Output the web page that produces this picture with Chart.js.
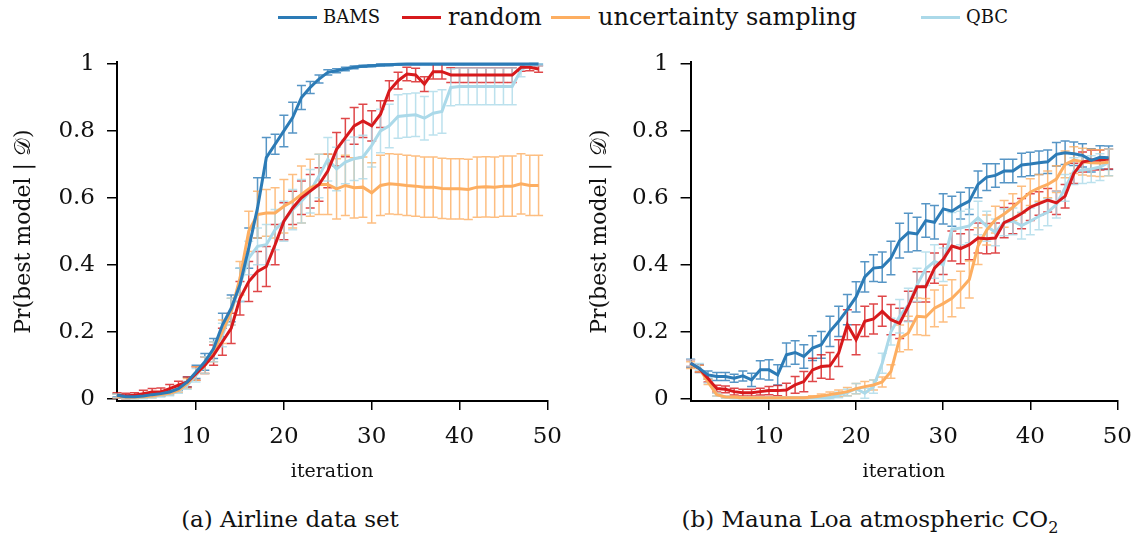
<!DOCTYPE html>
<html>
<head>
<meta charset="utf-8">
<script src="https://cdn.jsdelivr.net/npm/chart.js@4/dist/chart.umd.min.js"></script>
<style>
  body { margin: 0; background: #fff; width: 1145px; height: 533px; overflow: hidden; position: relative; font-family: "DejaVu Serif", serif; color: #111; }
  canvas { position: absolute; top: 0; }
  .swatch { position: absolute; top: 16px; width: 39px; height: 3px; }
  .ltext { position: absolute; top: 0; height: 34px; line-height: 34px; font-size: 24px; white-space: nowrap; }
  .sc { font-size: 18px; }
  .caption { position: absolute; top: 505px; font-size: 23px; line-height: 28px; text-align: center; white-space: nowrap; }
</style>
</head>
<body>
<div id="legend"></div>
<canvas id="chartA" width="575" height="490" style="left:0"></canvas>
<canvas id="chartB" width="567" height="490" style="left:578px"></canvas>
<div class="caption" style="left:140px; width:300px;">(a) Airline data set</div>
<div class="caption" style="left:670px; width:400px;">(b) Mauna Loa atmospheric CO<sub style="font-size:16px">2</sub></div>
<script>
const iterations = [1,2,3,4,5,6,7,8,9,10,11,12,13,14,15,16,17,18,19,20,21,22,23,24,25,
  26,27,28,29,30,31,32,33,34,35,36,37,38,39,40,41,42,43,44,45,46,47,48,49];
const xTicks = [10, 20, 30, 40, 50];
const yTicks = [0, 0.2, 0.4, 0.6, 0.8, 1];
const seriesNames = ["BAMS", "random", "uncertainty sampling", "QBC"];
const seriesColors = ["#2c7bb6", "#d7191c", "#fdae61", "#abd9e9"];

// (a) airline
const bamsA = [0.01,0.006,0.006,0.008,0.012,0.015,0.02,0.03,0.05,0.08,0.11,0.15,0.22,0.27,0.34,0.45,0.57,0.72,0.76,0.8,
  0.84,0.9,0.93,0.955,0.975,0.98,0.985,0.99,0.993,0.995,0.997,0.998,0.999,1,1,1,1,1,1,1,1,1,1,1,1,1,1,1,1];
const randomA = [0.01,0.008,0.01,0.015,0.02,0.02,0.03,0.04,0.05,0.075,0.1,0.13,0.17,0.21,0.3,0.35,0.38,0.395,0.46,0.53,
  0.57,0.6,0.62,0.64,0.68,0.745,0.78,0.815,0.83,0.815,0.85,0.92,0.95,0.97,0.967,0.94,0.977,0.977,0.967,0.967,
  0.967,0.967,0.967,0.967,0.967,0.967,0.99,0.99,0.985];
const uncertA = [0.008,0.004,0.004,0.006,0.008,0.012,0.016,0.025,0.045,0.075,0.1,0.14,0.2,0.26,0.36,0.5,0.55,0.555,0.555,0.575,
  0.59,0.61,0.63,0.64,0.64,0.627,0.637,0.63,0.632,0.615,0.637,0.642,0.64,0.637,0.635,0.632,0.632,0.628,0.627,0.627,
  0.625,0.632,0.633,0.632,0.635,0.635,0.642,0.637,0.637];
const qbcA = [0.008,0.003,0.003,0.005,0.007,0.01,0.014,0.022,0.04,0.07,0.1,0.14,0.19,0.26,0.34,0.42,0.455,0.46,0.505,0.53,
  0.565,0.59,0.62,0.665,0.715,0.686,0.707,0.717,0.722,0.757,0.8,0.815,0.843,0.846,0.848,0.838,0.853,0.858,0.93,0.933,
  0.933,0.933,0.933,0.933,0.933,0.933,0.982,1,1];
const bamsAErr = [0.005,0.005,0.005,0.005,0.005,0.005,0.005,0.006,0.015,0.02,0.025,0.03,0.035,0.04,0.05,0.06,0.09,0.06,0.03,0.047,
  0.046,0.036,0.018,0.012,0.008,0.006,0.005,0.004,0.003,0.003,0.003,0.003,0.003,0.003,0.003,0.003,0.003,0.003,0.003,0.003,
  0.003,0.003,0.003,0.003,0.003,0.003,0.003,0.003,0.003];
const randomAErr = [0.008,0.008,0.008,0.01,0.01,0.012,0.012,0.012,0.015,0.02,0.025,0.03,0.04,0.045,0.05,0.06,0.06,0.06,0.06,0.055,
  0.05,0.05,0.05,0.05,0.05,0.05,0.057,0.055,0.05,0.045,0.04,0.03,0.025,0.02,0.02,0.022,0.022,0.022,0.022,0.022,
  0.022,0.022,0.022,0.022,0.022,0.022,0.012,0.01,0.01];
const uncertAErr = [0.005,0.005,0.005,0.005,0.005,0.005,0.005,0.006,0.015,0.02,0.025,0.03,0.035,0.04,0.05,0.06,0.07,0.07,0.075,0.08,
  0.08,0.085,0.085,0.09,0.09,0.09,0.09,0.09,0.09,0.09,0.09,0.09,0.09,0.09,0.09,0.09,0.09,0.09,0.09,0.09,
  0.09,0.09,0.09,0.09,0.09,0.09,0.09,0.09,0.09];
const qbcAErr = [0.005,0.005,0.005,0.005,0.005,0.005,0.005,0.006,0.012,0.02,0.025,0.03,0.035,0.04,0.05,0.05,0.055,0.06,0.06,0.06,
  0.06,0.065,0.065,0.065,0.065,0.065,0.065,0.065,0.065,0.065,0.065,0.065,0.065,0.065,0.065,0.065,0.065,0.065,0.055,0.055,
  0.055,0.055,0.055,0.055,0.055,0.055,0.02,0.005,0.005];

// (b) mauna loa
const bamsB = [0.106,0.09,0.071,0.066,0.066,0.061,0.068,0.056,0.086,0.086,0.071,0.131,0.138,0.126,0.151,0.161,0.201,0.231,0.266,0.304,
  0.364,0.39,0.393,0.42,0.472,0.496,0.492,0.532,0.527,0.567,0.56,0.577,0.59,0.64,0.662,0.667,0.68,0.68,0.698,0.701,
  0.705,0.708,0.73,0.735,0.732,0.727,0.712,0.721,0.72];
const randomB = [0.106,0.09,0.06,0.03,0.028,0.021,0.018,0.018,0.021,0.024,0.024,0.026,0.041,0.051,0.086,0.096,0.098,0.136,0.221,0.176,
  0.231,0.238,0.261,0.236,0.225,0.276,0.334,0.334,0.39,0.416,0.456,0.448,0.46,0.48,0.478,0.48,0.526,0.538,0.553,0.572,
  0.583,0.593,0.585,0.605,0.673,0.707,0.713,0.713,0.716];
const uncertB = [0.1,0.09,0.05,0.012,0.005,0.004,0.003,0.003,0.003,0.003,0.003,0.003,0.003,0.003,0.005,0.008,0.012,0.016,0.021,0.03,
  0.036,0.041,0.05,0.081,0.18,0.196,0.246,0.244,0.27,0.284,0.3,0.326,0.356,0.456,0.504,0.535,0.552,0.572,0.595,0.617,
  0.63,0.64,0.656,0.7,0.713,0.708,0.705,0.704,0.706];
const qbcB = [0.106,0.095,0.055,0.012,0.005,0.003,0.003,0.003,0.003,0.003,0.003,0.003,0.003,0.003,0.003,0.003,0.003,0.011,0.018,0.03,
  0.016,0.036,0.106,0.2,0.246,0.28,0.34,0.388,0.41,0.4,0.506,0.51,0.516,0.54,0.515,0.497,0.527,0.53,0.517,0.53,
  0.545,0.557,0.58,0.63,0.68,0.683,0.686,0.692,0.706];
const bamsBErr = [0.012,0.012,0.012,0.012,0.012,0.012,0.015,0.02,0.027,0.03,0.03,0.035,0.035,0.035,0.037,0.04,0.045,0.045,0.045,0.045,
  0.045,0.04,0.045,0.05,0.052,0.058,0.05,0.05,0.05,0.045,0.045,0.04,0.04,0.04,0.04,0.035,0.035,0.035,0.035,0.035,
  0.035,0.035,0.035,0.035,0.035,0.035,0.035,0.035,0.035];
const randomBErr = [0.01,0.01,0.01,0.01,0.01,0.01,0.01,0.01,0.01,0.012,0.015,0.02,0.025,0.03,0.035,0.035,0.04,0.04,0.045,0.045,
  0.045,0.045,0.045,0.045,0.045,0.045,0.045,0.045,0.045,0.045,0.045,0.045,0.045,0.045,0.045,0.045,0.045,0.045,0.045,0.04,
  0.035,0.035,0.035,0.035,0.03,0.03,0.03,0.03,0.03];
const uncertBErr = [0.01,0.01,0.008,0.004,0.003,0.003,0.003,0.003,0.003,0.003,0.003,0.003,0.003,0.003,0.004,0.006,0.008,0.01,0.012,0.015,
  0.015,0.015,0.015,0.02,0.04,0.05,0.055,0.055,0.055,0.055,0.055,0.055,0.055,0.055,0.045,0.04,0.04,0.04,0.04,0.04,
  0.04,0.04,0.04,0.04,0.04,0.04,0.04,0.04,0.04];
const qbcBErr = [0.01,0.01,0.008,0.004,0.003,0.003,0.003,0.003,0.003,0.003,0.003,0.003,0.003,0.003,0.003,0.003,0.003,0.008,0.01,0.015,
  0.015,0.02,0.03,0.04,0.05,0.05,0.05,0.05,0.05,0.05,0.05,0.05,0.05,0.05,0.045,0.04,0.04,0.04,0.04,0.04,
  0.04,0.04,0.04,0.04,0.04,0.04,0.04,0.04,0.04];

// legend in html, item positions
const legendLineX = [278, 402, 551, 921];
const legendTextX = [323, 448, 598, 966];
const legend = document.getElementById("legend");
seriesNames.forEach((name, i) => {
  const small = name === "BAMS" || name === "QBC";
  legend.insertAdjacentHTML("beforeend",
    `<span class="swatch" style="left:${legendLineX[i]}px;background:${seriesColors[i]}"></span>` +
    `<span class="ltext ${small ? "sc" : ""}" style="left:${legendTextX[i]}px">${name}</span>`);
});

function withAlpha(hex, a) {
  const n = parseInt(hex.slice(1), 16);
  return `rgba(${n >> 16},${(n >> 8) & 255},${n & 255},${a})`;
}

// error bars drawn under the lines
const errorBars = {
  id: "errorBars",
  beforeDatasetsDraw(chart) {
    const ctx = chart.ctx;
    const xs = chart.scales.x, ys = chart.scales.y;
    chart.data.datasets.forEach((ds) => {
      ctx.save();
      ctx.strokeStyle = withAlpha(ds.borderColor, 0.8);
      ctx.lineWidth = 1.5;
      ds.data.forEach((p, j) => {
        const e = ds.errors[j];
        const x = xs.getPixelForValue(p.x);
        const top = ys.getPixelForValue(Math.min(1, p.y + e));
        const bot = ys.getPixelForValue(Math.max(0, p.y - e));
        ctx.beginPath();
        ctx.moveTo(x, top); ctx.lineTo(x, bot);
        ctx.moveTo(x - 4.5, top); ctx.lineTo(x + 4.5, top);
        ctx.moveTo(x - 4.5, bot); ctx.lineTo(x + 4.5, bot);
        ctx.stroke();
      });
      ctx.restore();
    });
  }
};

function makeChart(id, values, errors, yWidth, padRight, yTitlePad) {
  const datasets = values.map((vals, i) => ({
    label: seriesNames[i],
    data: vals.map((v, j) => ({ x: iterations[j], y: v })),
    errors: errors[i],
    borderColor: seriesColors[i],
    borderWidth: 3,
    pointRadius: 0,
    tension: 0,
    clip: false
  }));
  const tickFont = { family: "'DejaVu Serif'", size: 23 };
  return new Chart(document.getElementById(id), {
    type: "line",
    data: { datasets },
    plugins: [errorBars],
    options: {
      responsive: false,
      animation: false,
      layout: { padding: { top: 62.3, right: padRight, bottom: 0, left: 0 } },
      plugins: { legend: { display: false }, tooltip: { enabled: false } },
      scales: {
        x: {
          type: "linear", min: 1, max: 50,
          afterBuildTicks: s => { s.ticks = xTicks.map(v => ({ value: v })); },
          afterFit: s => { s.height = 89; },
          ticks: { font: tickFont, color: "#111", padding: 13, maxRotation: 0, callback: v => String(v) },
          grid: { drawOnChartArea: false, drawTicks: true, tickLength: 9, color: "#000", lineWidth: 1.5 },
          border: { display: true, color: "#000", width: 2 },
          title: { display: true, text: "iteration", font: { family: "'DejaVu Serif'", size: 19 },
                   color: "#111", padding: { top: 0, bottom: 7 } }
        },
        y: {
          type: "linear", min: -0.007, max: 1.005,
          afterBuildTicks: s => { s.ticks = yTicks.map(v => ({ value: v })); },
          afterFit: s => { s.width = yWidth; },
          ticks: { font: tickFont, color: "#111", padding: 12, callback: v => String(v) },
          grid: { drawOnChartArea: false, drawTicks: true, tickLength: 10, color: "#000", lineWidth: 1.5 },
          border: { display: true, color: "#000", width: 2 },
          title: { display: true, text: "Pr(best model | 𝒟)", font: { family: "'DejaVu Serif'", size: 22 },
                   color: "#111", padding: { top: yTitlePad, bottom: 0 } }
        }
      }
    }
  });
}

makeChart("chartA", [bamsA, randomA, uncertA, qbcA], [bamsAErr, randomAErr, uncertAErr, qbcAErr], 117, 22, 11);
makeChart("chartB", [bamsB, randomB, uncertB, qbcB], [bamsBErr, randomBErr, uncertBErr, qbcBErr], 112.6, 17, 9);
</script>
</body>
</html>
